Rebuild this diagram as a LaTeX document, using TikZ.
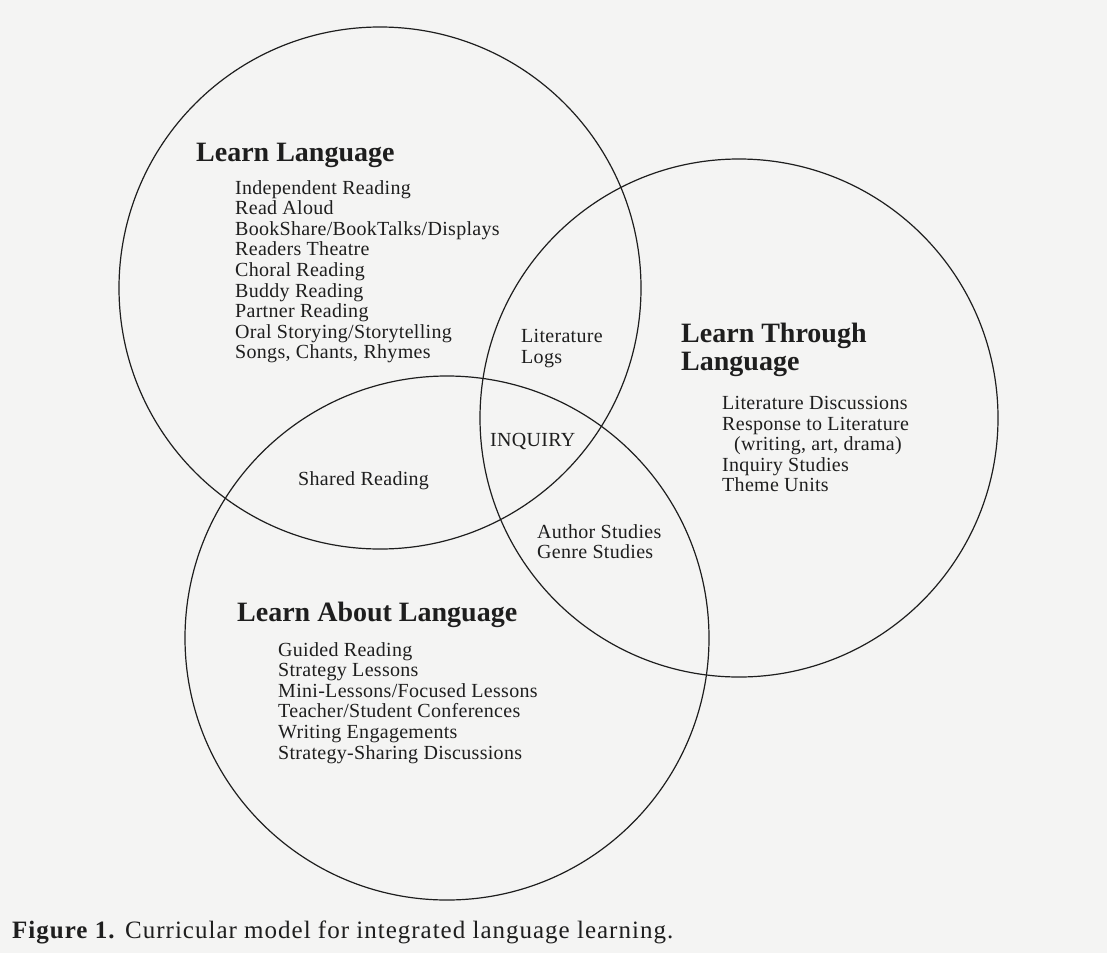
\documentclass[tikz,border=0pt]{standalone}
\usepackage{fontspec}
\setmainfont{Liberation Serif}
\newfontfamily\listface[LetterSpace=1.5]{Liberation Serif}
\newfontfamily\captface[LetterSpace=4]{Liberation Serif}
\usetikzlibrary{positioning}
\definecolor{paper}{RGB}{244,244,243}
\definecolor{ink}{RGB}{30,30,30}
\tikzset{
    ring/.style = {circle, draw=ink, line width=1.2pt, minimum size=#1, inner sep=0pt},
    head/.style = {anchor=base west, align=left, inner sep=0pt, text=ink, font=\fontsize{28}{28}\selectfont\bfseries},
    items/.style = {anchor=north west, align=left, inner sep=0pt, text=ink, font=\listface\fontsize{20}{20.6}\selectfont},
    word/.style = {anchor=base west, inner sep=0pt, text=ink, font=\listface\fontsize{20}{20.6}\selectfont},
    capt/.style = {anchor=base west, inner sep=0pt, text=ink, font=\captface\fontsize{25}{26}\selectfont}
}

\begin{document}
\begin{tikzpicture}[x=1pt,y=-1pt]
\useasboundingbox[fill=paper] (0,0) rectangle (1107,953);
% the three circles
\node[ring=522pt] at (380,288) (learn) {};
\node[ring=518pt] at (739,418) (through) {};
\node[ring=524pt] at (447,638) (about) {};
% learn language
\node[head] at (196,161) (lhead) {Learn Language};
\node[items] at (235,180) (litems) {Independent Reading\\Read Aloud\\BookShare/BookTalks/Displays\\Readers Theatre\\Choral Reading\\Buddy Reading\\Partner Reading\\Oral Storying/Storytelling\\Songs, Chants, Rhymes};
% learn through language
\node[head] at (681,370) (thead) {Learn Through\\Language};
\node[items] at (722,396) (titems) {Literature Discussions\\Response to Literature\\\hspace*{12pt}(writing, art, drama)\\Inquiry Studies\\Theme Units};
% learn about language
\node[head] at (237,621) (ahead) {Learn About Language};
\node[items] at (278,642) (aitems) {Guided Reading\\Strategy Lessons\\Mini-Lessons/Focused Lessons\\Teacher/Student Conferences\\Writing Engagements\\Strategy-Sharing Discussions};
% overlaps
\node[items] at (521,329) (logs) {Literature\\Logs};
\node[word] at (490,446) (inquiry) {INQUIRY};
\node[word] at (298,485) (shared) {Shared Reading};
\node[items] at (537,524) (studies) {Author Studies\\Genre Studies};
% caption
\node[capt] at (12,938) (caption) {\textbf{Figure 1.} Curricular model for integrated language learning.};
\end{tikzpicture}
\end{document}
